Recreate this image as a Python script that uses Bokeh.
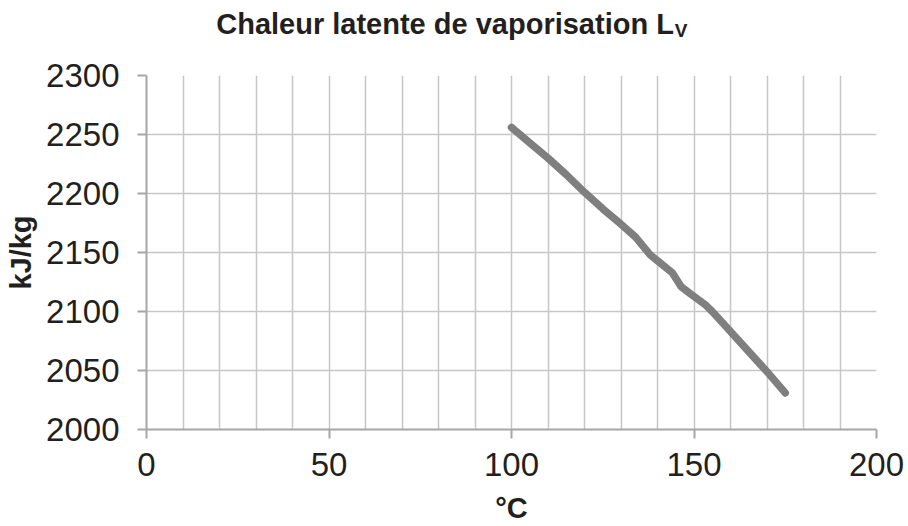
from bokeh.plotting import figure
from bokeh.layouts import column
from bokeh.models import Range1d, FixedTicker, SingleIntervalTicker, Label
from bokeh.embed import file_html
from bokeh.resources import INLINE

# Data
temperature_c = [100, 105, 110, 115, 120, 125, 130, 134, 138, 140, 144, 146.5, 149, 153, 155, 160, 165, 170, 175]
latent_heat = [2256, 2243, 2230, 2216, 2201, 2187, 2174, 2163, 2148, 2143, 2133, 2121, 2115, 2106, 2100, 2083, 2066, 2049, 2031]

x_ticks = [0, 50, 100, 150, 200]
y_ticks = [2000, 2050, 2100, 2150, 2200, 2250, 2300]
title_main = "Chaleur latente de vaporisation L"
title_sub = "V"
x_label = "°C"
y_label = "kJ/kg"

FONT = "Liberation Sans"
TXT = "#231f20"
GRID = "#c6c6c6"
AXIS = "#a6a6a6"

W = 908
TITLE_H = 58

# ---- title strip (main text + subscript V) ----
t = figure(width=W, height=TITLE_H, output_backend="svg", toolbar_location=None,
           title=None, x_axis_type=None, y_axis_type=None,
           x_range=Range1d(0, W), y_range=Range1d(0, TITLE_H),
           min_border_left=0, min_border_right=0, min_border_top=0, min_border_bottom=0)
t.outline_line_color = None
t.background_fill_color = "white"
t.border_fill_color = "white"
t.add_layout(Label(x=656, y=35, text=title_main, text_align="right",
                   text_baseline="alphabetic", text_font=FONT, text_font_style="bold",
                   text_font_size="29px", text_color=TXT))
t.add_layout(Label(x=657, y=28.5, text=title_sub, text_align="left",
                   text_baseline="alphabetic", text_font=FONT, text_font_style="bold",
                   text_font_size="19px", text_color=TXT))

# ---- main chart ----
p = figure(width=W, height=526 - TITLE_H, output_backend="svg", toolbar_location=None,
           title=None, x_range=Range1d(0, 200), y_range=Range1d(2000, 2300),
           min_border_left=146, min_border_right=32, min_border_top=75 - TITLE_H,
           min_border_bottom=96)
p.outline_line_color = None
p.background_fill_color = "white"
p.border_fill_color = "white"

# grids
p.xgrid.ticker = SingleIntervalTicker(interval=10)
p.ygrid.ticker = FixedTicker(ticks=y_ticks)
for g in (p.xgrid, p.ygrid):
    g.grid_line_color = GRID
    g.grid_line_width = 1.5

# axes
p.xaxis.ticker = FixedTicker(ticks=x_ticks, minor_ticks=[])
p.yaxis.ticker = FixedTicker(ticks=y_ticks, minor_ticks=[])
for ax in (p.xaxis, p.yaxis):
    ax.axis_line_color = AXIS
    ax.axis_line_width = 2
    ax.major_tick_line_color = AXIS
    ax.major_tick_line_width = 2
    ax.major_tick_in = 0
    ax.major_tick_out = 9
    ax.minor_tick_line_color = None
    ax.major_label_text_font = FONT
    ax.major_label_text_font_size = "33px"
    ax.major_label_text_color = TXT
    ax.axis_label_text_font = FONT
    ax.axis_label_text_font_style = "bold"
    ax.axis_label_text_font_size = "29px"
    ax.axis_label_text_color = TXT

p.xaxis.axis_label = x_label
p.yaxis.axis_label = y_label
p.xaxis.major_label_standoff = 14
p.yaxis.major_label_standoff = 18
p.xaxis.axis_label_standoff = 13
p.yaxis.axis_label_standoff = 6

# data line
p.line(temperature_c, latent_heat, line_color="#7f7f7f", line_width=7.5,
       line_cap="round", line_join="round")

layout = column(t, p, spacing=0)
open("out.html", "w").write(file_html(layout, INLINE))
